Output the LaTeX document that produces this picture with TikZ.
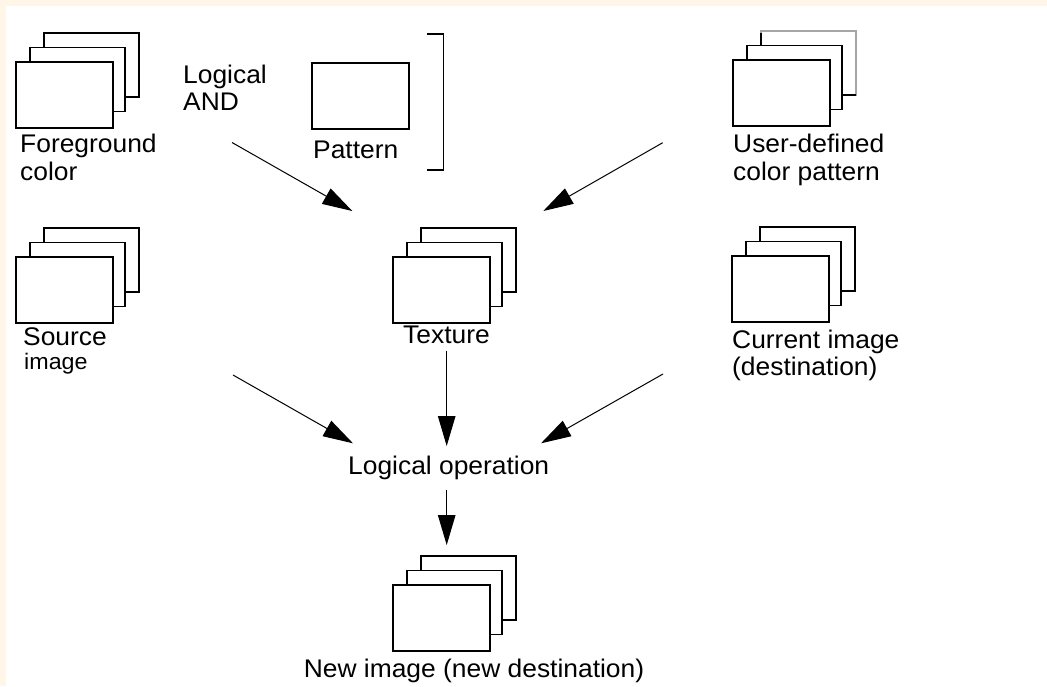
\documentclass[tikz,border=0pt]{standalone}
\usepackage{fontspec}
\setmainfont{Liberation Sans}[FakeStretch=1.035]
\usetikzlibrary{arrows.meta}
\definecolor{cream}{RGB}{255,246,232}
\newcommand\imgstack[4][black]{%
  \draw[sheet, draw=#1] (#3+28,#4-29) rectangle ++(95,64);
  \draw[sheet] (#3+14,#4-14.5) rectangle ++(95,64);
  \node[sheet, anchor=north west, minimum width=97pt, minimum height=66pt,
        inner sep=0pt, outer sep=0pt] (#2) at (#3,#4) {};
}
\begin{document}
\begin{tikzpicture}[x=1pt,y=-1pt,
  lbl/.style={anchor=base west, inner sep=0pt, font=\fontsize{25.5}{28}\selectfont},
  sheet/.style={draw=black, fill=white, line width=1.1pt},
  flow/.style={-{Triangle[length=30pt,width=17.5pt]}, line width=1pt}]
\useasboundingbox (0,0) rectangle (1047,686);
\fill[cream] (0,0) rectangle (1047,686);
\fill[white] (6,6) rectangle (1047,686);

% image stacks
\imgstack{fg}{16}{62}
\imgstack{src}{16}{257}
\imgstack{tex}{393}{257}
\imgstack{new}{393}{585}
\imgstack[black!35]{user}{733}{60}
\draw[line width=1.1pt] (761,33) -- (761,46);
\draw[line width=1.1pt] (843,95) -- (856,95);
\imgstack{cur}{732}{256}

% pattern
\node[sheet, anchor=north west, minimum width=97pt, minimum height=66pt,
      inner sep=0pt, outer sep=0pt] (pat) at (312,63) {};
\draw[line width=1.1pt] (426.7,34) -- (443.3,34) -- (443.3,170) -- (426.7,170);

% labels
\node[lbl] (fgA) at (20,152) {Foreground};
\node[lbl] (fgB) at (20,180) {color};
\node[lbl] (andA) at (183,83) {Logical};
\node[lbl] (andB) at (183,110) {AND};
\node[lbl] (patl) at (313,158) {Pattern};
\node[lbl] (userA) at (733,152) {User-defined};
\node[lbl] (userB) at (733,180) {color pattern};
\node[lbl] (srcA) at (23,345) {Source};
\node[lbl, font=\fontsize{22.5}{26}\selectfont] (srcB) at (24,369) {image};
\node[lbl] (texl) at (403,343) {Texture};
\node[lbl] (curA) at (732,348) {Current image};
\node[lbl] (curB) at (732,375) {(destination)};
\node[lbl] (logop) at (348,474) {Logical operation};
\node[lbl, anchor=base] (newl) at (474,677) {New image (new destination)};

% connectors
\coordinate (a1s) at (232,142.5);  \coordinate (a1e) at (352.3,211);
\coordinate (a2s) at (662.7,142.7); \coordinate (a2e) at (543.3,211);
\coordinate (a3s) at (233,375);    \coordinate (a3e) at (353,443.3);
\coordinate (a4s) at (663,374);    \coordinate (a4e) at (541,443.3);
\coordinate (a5s) at (446.7,350.7); \coordinate (a5e) at (446.7,446);
\coordinate (a6s) at (446.7,490);  \coordinate (a6e) at (446.7,545);
\draw[flow] (a1s) -- (a1e);
\draw[flow] (a2s) -- (a2e);
\draw[flow] (a3s) -- (a3e);
\draw[flow] (a4s) -- (a4e);
\draw[flow] (a5s) -- (a5e);
\draw[flow] (a6s) -- (a6e);
\end{tikzpicture}
\end{document}
